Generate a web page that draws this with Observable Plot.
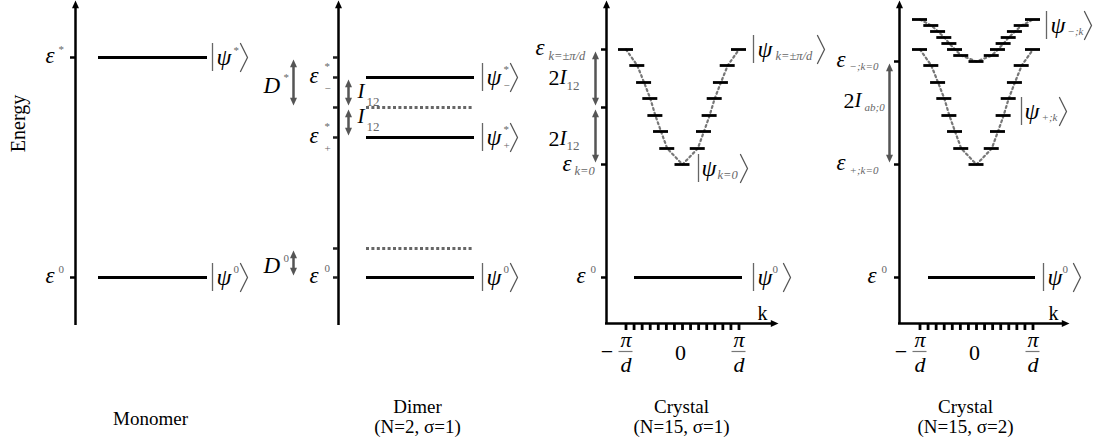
<!DOCTYPE html>
<html><head><meta charset="utf-8">
<script src="https://cdn.jsdelivr.net/npm/d3@7"></script>
<script src="https://cdn.jsdelivr.net/npm/@observablehq/plot@0.6"></script>
<style>body{margin:0;background:#fff} svg{display:block} svg text{font-family:'Liberation Serif','Times New Roman',serif}</style>
</head><body><div id="chart"></div>
<script>
// ---------- data (energies in diagram units, epsilon0 = 0) ----------
const monomerLevels = [220, 0];
const dimerSolid = [200, 140, 0];
const dimerDotted = [170, 29];
const dimerTicks = [220, 200, 170, 140, 29, 0];
const kPoints = [-1, -0.8, -0.68, -0.57, -0.48, -0.38, -0.27, 0, 0.27, 0.38, 0.48, 0.57, 0.68, 0.8, 1];
const bandPlus = [228, 212, 195, 179, 162, 146, 129, 113, 129, 146, 162, 179, 195, 212, 228];
const bandMinus = [258, 252, 246, 240, 234, 228, 222, 216, 222, 228, 234, 240, 246, 252, 258];
const crystal1Ticks = [228, 170, 113, 0];
const crystal2Ticks = [216, 113, 0];
const kTickCount = 15;
const captions = [["Monomer"], ["Dimer", "(N=2, σ=1)"], ["Crystal", "(N=15, σ=1)"], ["Crystal", "(N=15, σ=2)"]];

// ---------- layout ----------
const mono = {ax: 75, x1: 98, x2: 207, bot: -48, cap: 150};
const dim = {ax: 338, x1: 366, x2: 474, bot: -48, cap: 417};
const cr1 = {ax: 606, kc: 682, kh: 56.5, x1: 634, x2: 742, bot: -46, kEnd: 778, cap: 681};
const cr2 = {ax: 899, kc: 976, kh: 56.5, x1: 928, x2: 1035, bot: -46, kEnd: 1069, cap: 965};
const panels = [mono, dim, cr1, cr2];
const TOP = 277;
const kAxisY = -46;
const serif = "'Liberation Serif', 'Times New Roman', serif";

// triangles (arrow heads) as small polygons
const tris = [];
function tri(x, y, dir, s, fill, id) {
  const h = s * 1.1, w = s * 0.5;
  let pts;
  if (dir === "up") pts = [[x, y], [x - w, y - h], [x + w, y - h]];
  else if (dir === "down") pts = [[x, y], [x - w, y + h], [x + w, y + h]];
  else pts = [[x, y], [x - h, y + w], [x - h, y - w]];
  pts.forEach(p => tris.push({x: p[0], y: p[1], id, fill}));
}
let tid = 0;
panels.forEach(p => tri(p.ax, TOP, "up", 7, "#000", tid++));
[cr1, cr2].forEach(p => tri(p.kEnd, kAxisY, "right", 7, "#000", tid++));

// double arrows
const arrows = [
  {x: 293, a: monomerLevels[0], b: dimerTicks[2]},
  {x: 293, a: dimerDotted[1], b: dimerSolid[2]},
  {x: 348, a: dimerSolid[0], b: dimerDotted[0]},
  {x: 348, a: dimerDotted[0], b: dimerSolid[1]},
  {x: 595, a: crystal1Ticks[0], b: crystal1Ticks[1]},
  {x: 595, a: crystal1Ticks[1], b: crystal1Ticks[2]},
  {x: 889, a: crystal2Ticks[0], b: crystal2Ticks[1]}
].map(d => ({x: d.x, a: d.a - 2, b: d.b + 2}));
arrows.forEach(d => { tri(d.x, d.a, "up", 7, "#555", tid++); tri(d.x, d.b, "down", 7, "#555", tid++); });

// bands
const band1 = kPoints.map((k, i) => ({x: cr1.kc + k * cr1.kh, y: bandPlus[i]}));
const band2p = kPoints.map((k, i) => ({x: cr2.kc + k * cr2.kh, y: bandPlus[i]}));
const band2m = kPoints.map((k, i) => ({x: cr2.kc + k * cr2.kh, y: bandMinus[i]}));
const kTicks = [cr1, cr2].flatMap(p => d3.range(kTickCount).map(i => ({x: p.kc - p.kh + 2 * p.kh * i / (kTickCount - 1)})));

// kets |psi>
const kets = [
  {bar: 212, br: 240, c: monomerLevels[0]},
  {bar: 212, br: 240, c: monomerLevels[1]},
  {bar: 482, br: 510, c: dimerSolid[0]},
  {bar: 482, br: 510, c: dimerSolid[1]},
  {bar: 482, br: 510, c: dimerSolid[2]},
  {bar: 753, br: 817, c: bandPlus[0]},
  {bar: 698, br: 740, c: bandPlus[7] - 4},
  {bar: 753, br: 783, c: 0},
  {bar: 1046, br: 1084, c: bandMinus[1]},
  {bar: 1021, br: 1059, c: bandPlus[4] + 4},
  {bar: 1043, br: 1073, c: 0}
];
const ketPts = kets.flatMap((k, i) => [
  {x: k.br, y: k.c + 14, id: i}, {x: k.br + 7, y: k.c, id: i}, {x: k.br, y: k.c - 14, id: i}
]);

// text pieces
const T = {};
function put(style, x, y, s) { (T[style] = T[style] || []).push({x, y, s}); }
// panel 1
put("eps", 45, monomerLevels[0] + 2, "ε"); put("sup", 58, monomerLevels[0] + 8, "*");
put("eps", 45, monomerLevels[1] + 2, "ε"); put("sup", 58, monomerLevels[1] + 8, "0");
put("psi", 216, monomerLevels[0], "ψ"); put("sup", 233, monomerLevels[0] + 7, "*");
put("psi", 216, monomerLevels[1], "ψ"); put("sup", 233, monomerLevels[1] + 8, "0");
// panel 2
put("D", 263, 192, "D"); put("sup", 283, 200, "*");
put("D", 263, 12, "D"); put("sup", 283, 19, "0");
put("eps", 309, dimerSolid[0] + 2, "ε"); put("sup", 324, dimerSolid[0] + 11, "*"); put("sup", 324, dimerSolid[0] - 11, "−");
put("eps", 309, dimerSolid[1] + 2, "ε"); put("sup", 324, dimerSolid[1] + 11, "*"); put("sup", 324, dimerSolid[1] - 11, "+");
put("eps", 309, dimerSolid[2] + 2, "ε"); put("sup", 324, dimerSolid[2] + 9, "0");
put("I", 357, 186, "I"); put("n12", 366, 176, "12");
put("I", 357, 161, "I"); put("n12", 366, 151, "12");
put("psi", 486, dimerSolid[0], "ψ"); put("sup", 503, dimerSolid[0] + 8, "*"); put("sup", 503, dimerSolid[0] - 8, "−");
put("psi", 486, dimerSolid[1], "ψ"); put("sup", 503, dimerSolid[1] + 8, "*"); put("sup", 503, dimerSolid[1] - 8, "+");
put("psi", 486, dimerSolid[2], "ψ"); put("sup", 503, dimerSolid[2] + 8, "0");
// panel 3
put("eps", 535, bandPlus[0] + 2, "ε"); put("subI", 548, bandPlus[0] - 6, "k=±π/d");
put("two", 548, 200, "2"); put("I", 559, 200, "I"); put("n12", 566, 192, "12");
put("two", 548, 139, "2"); put("I", 559, 139, "I"); put("n12", 566, 132, "12");
put("eps", 562, bandPlus[7] + 1, "ε"); put("subI", 574, bandPlus[7] - 6, "k=0");
put("eps", 576, 2, "ε"); put("sup", 590, 8, "0");
put("psi", 757, bandPlus[0], "ψ"); put("subI", 775, bandPlus[0] - 6, "k=±π/d");
put("psi", 701, bandPlus[7] - 4, "ψ"); put("subI", 717, bandPlus[7] - 10, "k=0");
put("psi", 757, 0, "ψ"); put("sup", 772, 8, "0");
// panel 4
put("eps", 836, bandMinus[7] + 2, "ε"); put("subS", 849, bandMinus[7] - 5, "−;k=0");
put("two", 843, 177, "2"); put("I", 854, 177, "I"); put("subS", 864, 170, "ab;0");
put("eps", 836, bandPlus[7] + 2, "ε"); put("subS", 849, bandPlus[7] - 6, "+;k=0");
put("eps", 867, 2, "ε"); put("sup", 881, 8, "0");
put("psi", 1050, bandMinus[1], "ψ"); put("subS", 1067, bandMinus[1] - 6, "−;k");
put("psi", 1024, bandPlus[4] + 4, "ψ"); put("subS", 1041, bandPlus[4] - 2, "+;k");
put("psi", 1047, 0, "ψ"); put("sup", 1062, 8, "0");
// k axes labels
const fracBars = [];
[cr1, cr2].forEach(p => {
  put("kLab", p.kEnd - 16, -36, "k");
  put("minus", p.kc - p.kh - 19, -74, "−");
  [-1, 1].forEach(s => {
    const x = p.kc + s * p.kh;
    put("frac", x, -62, "π"); put("frac", x, -87, "d");
    fracBars.push({x1: x - 7, x2: x + 7});
  });
  put("zero", p.kc - 2, -75, "0");
});
// captions
panels.forEach((p, i) => {
  const c = captions[i];
  if (c.length === 1) put("cap", p.cap, -141, c[0]);
  else { put("cap", p.cap, -129, c[0]); put("cap", p.cap, -149, c[1]); }
});

const styles = {
  eps: {fontSize: 23, fontStyle: "italic", textAnchor: "start"},
  psi: {fontSize: 24, fontStyle: "italic", textAnchor: "start"},
  D: {fontSize: 23, fontStyle: "italic", textAnchor: "start"},
  I: {fontSize: 21, fontStyle: "italic", textAnchor: "start"},
  sup: {fontSize: 11, fill: "#666", textAnchor: "start"},
  subI: {fontSize: 12.5, fontStyle: "italic", fill: "#666", textAnchor: "start"},
  subS: {fontSize: 11, fontStyle: "italic", fill: "#666", textAnchor: "start"},
  n12: {fontSize: 13, fill: "#666", textAnchor: "start"},
  two: {fontSize: 22, textAnchor: "start"},
  kLab: {fontSize: 20, textAnchor: "middle"},
  minus: {fontSize: 22, textAnchor: "middle"},
  frac: {fontSize: 22, fontStyle: "italic", textAnchor: "middle"},
  zero: {fontSize: 22, textAnchor: "middle"},
  cap: {fontSize: 19, textAnchor: "middle"}
};

const marks = [
  Plot.ruleX(panels, {x: "ax", y1: "bot", y2: TOP - 5, stroke: "#000", strokeWidth: 2.5}),
  Plot.ruleY([cr1, cr2], {y: kAxisY, x1: d => d.ax - 1, x2: d => d.kEnd - 6, stroke: "#000", strokeWidth: 2.5}),
  Plot.ruleY(monomerLevels, {y: d => d, x1: mono.ax - 5, x2: mono.ax, stroke: "#000", strokeWidth: 2.5}),
  Plot.ruleY(dimerTicks, {y: d => d, x1: dim.ax - 5, x2: dim.ax, stroke: "#222", strokeWidth: 2.5}),
  Plot.ruleY(crystal1Ticks, {y: d => d, x1: cr1.ax - 5, x2: cr1.ax, stroke: "#000", strokeWidth: 2.5}),
  Plot.ruleY(crystal2Ticks, {y: d => d, x1: cr2.ax - 5, x2: cr2.ax, stroke: "#000", strokeWidth: 2.5}),
  Plot.ruleX(kTicks, {x: "x", y1: kAxisY - 1, y2: kAxisY - 7, stroke: "#000", strokeWidth: 2.8}),
  Plot.ruleY(monomerLevels, {y: d => d, x1: mono.x1, x2: mono.x2, stroke: "#000", strokeWidth: 2.8}),
  Plot.ruleY(dimerSolid, {y: d => d, x1: dim.x1, x2: dim.x2, stroke: "#000", strokeWidth: 2.8}),
  Plot.ruleY(dimerDotted, {y: d => d, x1: dim.x1, x2: dim.x2, stroke: "#666", strokeWidth: 2.8, strokeDasharray: "3,2.4"}),
  Plot.ruleY([0], {y: d => d, x1: cr1.x1, x2: cr1.x2, stroke: "#000", strokeWidth: 2.8}),
  Plot.ruleY([0], {y: d => d, x1: cr2.x1, x2: cr2.x2, stroke: "#000", strokeWidth: 2.8}),
  Plot.line(band1, {x: "x", y: "y", stroke: "#777", strokeWidth: 2.2, strokeDasharray: "2,3"}),
  Plot.line(band2p, {x: "x", y: "y", stroke: "#777", strokeWidth: 2.2, strokeDasharray: "2,3"}),
  Plot.line(band2m, {x: "x", y: "y", stroke: "#777", strokeWidth: 2.2, strokeDasharray: "2,3"}),
  ...[band1, band2p, band2m].map(b => Plot.ruleY(b, {y: "y", x1: d => d.x - 7.5, x2: d => d.x + 7.5, stroke: "#000", strokeWidth: 2.8})),
  Plot.ruleX(arrows, {x: "x", y1: d => d.a - 4, y2: d => d.b + 4, stroke: "#555", strokeWidth: 2.5}),
  Plot.line(tris.filter(d => d.fill === "#000"), {x: "x", y: "y", z: "id", fill: "#000", stroke: "none"}),
  Plot.line(tris.filter(d => d.fill !== "#000"), {x: "x", y: "y", z: "id", fill: "#555", stroke: "none"}),
  Plot.ruleX(kets, {x: "bar", y1: d => d.c - 14, y2: d => d.c + 14, stroke: "#666", strokeWidth: 1.3}),
  Plot.line(ketPts, {x: "x", y: "y", z: "id", stroke: "#555", strokeWidth: 1.3}),
  Plot.ruleY(fracBars, {y: -74, x1: "x1", x2: "x2", stroke: "#777", strokeWidth: 1.2}),
  Plot.text(["Energy"], {x: 18, y: 154, text: d => d, rotate: -90, fontSize: 20, fontFamily: serif, fill: "#000", textAnchor: "middle", lineAnchor: "middle"}),
  ...Object.keys(styles).filter(k => T[k]).map(k => Plot.text(T[k], {x: "x", y: "y", text: "s", lineAnchor: "middle", fill: "#000", fontFamily: serif, ...styles[k]}))
];

const chart = Plot.plot({
  width: 1112, height: 448, margin: 0,
  x: {domain: [0, 1112], range: [0, 1112], axis: null},
  y: {domain: [-171, 277], range: [448, 0], axis: null},
  style: {fontFamily: serif, background: "white", overflow: "visible"},
  marks
});
document.getElementById("chart").appendChild(chart);
</script>
</body></html>
